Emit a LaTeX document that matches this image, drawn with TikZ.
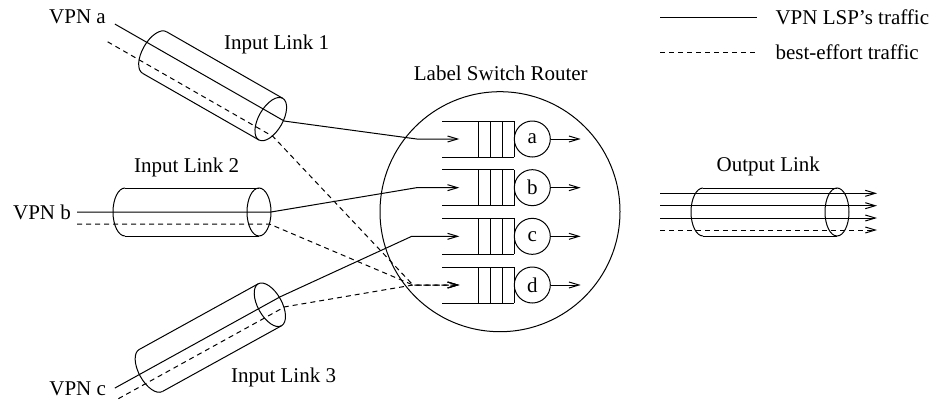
\documentclass[tikz,border=0pt]{standalone}
\usepackage{fontspec}
\setmainfont{Liberation Serif}
\usetikzlibrary{arrows.meta}

% cable drawn along its local x axis: #1 left centre, #2 angle, #3 length,
% #4 coordinates defined in the cable's own frame
\newcommand{\cable}[4]{%
  \begin{scope}[shift={#1}, rotate=#2]
    \draw (0,24) -- (#3,24) (0,-24) -- (#3,-24);
    \draw (0,24) arc[start angle=90, end angle=270, x radius=12, y radius=24];
    \draw (#3,0) ellipse[x radius=12, y radius=24];
    #4
  \end{scope}}

\begin{document}
\begin{tikzpicture}[x=1pt, y=1pt, line width=1pt,
  >={Straight Barb[length=10pt,width=6pt]},
  lbl/.style={inner sep=0pt, text height=14pt, text depth=0pt},
  be/.style={dash pattern=on 5pt off 4pt},
  srv/.style={circle, draw, minimum size=36pt, inner sep=0pt},
  font=\fontsize{21}{25}\selectfont]
\useasboundingbox (0,0) rectangle (940,-400);

% legend
\coordinate (l1a) at (660,-17);  \coordinate (l1b) at (757,-17);
\coordinate (l2a) at (660,-52);  \coordinate (l2b) at (757,-52);
\draw (l1a) -- (l1b);
\draw[be] (l2a) -- (l2b);
\node[lbl, anchor=west] (leg1) at (775,-17) {VPN LSP’s traffic};
\node[lbl, anchor=west] (leg2) at (775,-52) {best-effort traffic};

% labels
\node[lbl] (vpna)  at (77.5,-16)   {VPN a};
\node[lbl] (link1) at (276.5,-42.7) {Input Link 1};
\node[lbl] (lsr)   at (500.8,-73.3) {Label Switch Router};
\node[lbl] (link2) at (186.7,-165)  {Input Link 2};
\node[lbl] (vpnb)  at (42,-212)     {VPN b};
\node[lbl] (outl)  at (768.3,-164)  {Output Link};
\node[lbl] (link3) at (283.5,-375)  {Input Link 3};
\node[lbl] (vpnc)  at (77.7,-388.3) {VPN c};

% input cables
\cable{(154.5,-52.5)}{-29.8}{134}{%
  \coordinate (as0) at (-48.5,5);  \coordinate (as1) at (146.7,5);
  \coordinate (ad0) at (-46,-14);  \coordinate (ad1) at (144.6,-14);}
\cable{(125,-212)}{0}{134}{%
  \coordinate (bs0) at (-48,0);    \coordinate (bs1) at (146,0);
  \coordinate (bd0) at (-48,-12);  \coordinate (bd1) at (144.4,-12);}
\cable{(150.8,-370.5)}{28.9}{136}{%
  \coordinate (cs0) at (-40,2);    \coordinate (cs1) at (148.9,2);
  \coordinate (cd0) at (-42,-9);   \coordinate (cd1) at (148,-9);}

% router
\node[circle, draw, minimum size=240pt, inner sep=0pt] (router) at (500,-211.7) {};

% queues with their servers
\foreach \q/\y in {a/139, b/187.67, c/236.33, d/285} {
  \draw (442.3,-\y+18) -- (514.3,-\y+18) (442.3,-\y-18) -- (514.3,-\y-18);
  \foreach \x in {478.3, 490.3, 502.3, 514.3}
    \draw (\x,-\y+18) -- (\x,-\y-18);
  \node[srv] (s\q) at (532.3,-\y) {\q};
  \coordinate (o\q) at (580.7,-\y);
  \draw[->] (s\q.east) -- (o\q);
  \coordinate (in\q) at (459.3,-\y);
}
\coordinate (ka) at (416.7,-139);
\coordinate (kb) at (416.7,-187.67);
\coordinate (kc) at (411.7,-236.33);
\coordinate (kd) at (413,-285);

% LSP traffic
\draw[->] (as0) -- (as1) -- (ka) -- (ina);
\draw[->] (bs0) -- (bs1) -- (kb) -- (inb);
\draw[->] (cs0) -- (cs1) -- (kc) -- (inc);

% best-effort traffic
\draw[be,->] (ad0) -- (ad1) -- (kd) -- (ind);
\draw[be,->] (bd0) -- (bd1) -- (kd) -- (ind);
\draw[be,->] (cd0) -- (cd1) -- (kd) -- (ind);

% output cable
\cable{(703,-212)}{0}{134}{%
  \foreach \n/\v in {1/18.7, 2/6.3, 3/-6, 4/-18} {
    \coordinate (os\n) at (-43,\v); \coordinate (oe\n) at (174,\v);
  }}
\draw[->] (os1) -- (oe1);
\draw[->] (os2) -- (oe2);
\draw[->] (os3) -- (oe3);
\draw[be,->] (os4) -- (oe4);
\end{tikzpicture}
\end{document}
